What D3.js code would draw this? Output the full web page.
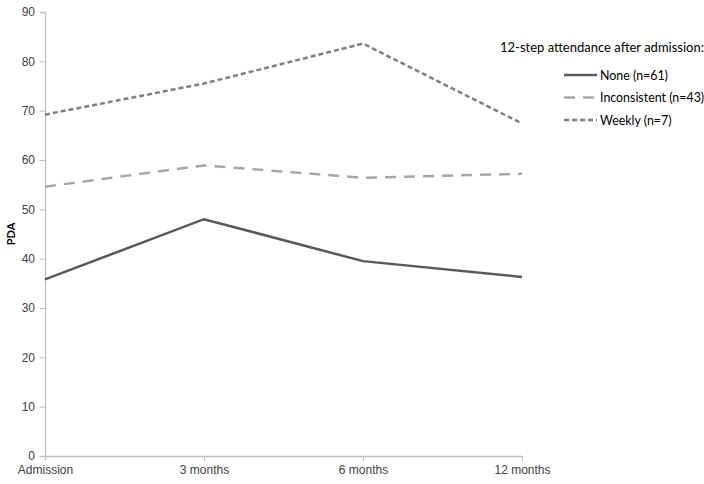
<!DOCTYPE html>
<html><head><meta charset="utf-8">
<script src="https://cdn.jsdelivr.net/npm/d3@7"></script>
<style>body{margin:0;background:#fff}svg{display:block;font-family:Lato,"Open Sans",sans-serif}</style>
</head><body><svg id="c" width="704" height="484"></svg>
<script>
const categories = ["Admission","3 months","6 months","12 months"];
const seriesNames = ["None (n=61)","Inconsistent (n=43)","Weekly (n=7)"];
const noneVals = [35.8, 48.0, 39.5, 36.3];
const inconsistentVals = [54.6, 58.9, 56.4, 57.2];
const weeklyVals = [69.2, 75.5, 83.6, 67.4];
const yTicks = [0,10,20,30,40,50,60,70,80,90];
const legendTitle = "12-step attendance after admission:";
const yLabel = "PDA";

const series = [
  {name: seriesNames[0], values: noneVals, color: "#595959", dash: null, width: 2.5},
  {name: seriesNames[1], values: inconsistentVals, color: "#a6a6a6", dash: "11,8", width: 2.5},
  {name: seriesNames[2], values: weeklyVals, color: "#7f7f7f", dash: "5,3", width: 2.5}
];

const svg = d3.select("#c");
const x = d3.scalePoint().domain(categories).range([45, 522]);
const y = d3.scaleLinear().domain([0, 90]).range([456, 12]);

const axisColor = "#bfbfbf";
const yAxis = svg.append("g").attr("transform","translate(45,0)")
  .call(d3.axisLeft(y).tickValues(yTicks).tickSize(5).tickPadding(5));
yAxis.select(".domain").attr("stroke", axisColor).attr("stroke-width",1.3);
yAxis.selectAll(".tick line").attr("stroke", axisColor);
yAxis.selectAll("text").attr("fill","#404040").style("font-size","12px");

const xAxis = svg.append("g").attr("transform","translate(0,456)")
  .call(d3.axisBottom(x).tickSize(5).tickPadding(4).tickSizeOuter(0));
xAxis.select(".domain").attr("stroke", axisColor).attr("stroke-width",1.3);
xAxis.selectAll(".tick line").attr("stroke", axisColor);
xAxis.selectAll("text").attr("fill","#404040").style("font-size","12px");

svg.append("text").attr("transform","translate(15,234) rotate(-90)")
  .attr("text-anchor","middle").attr("font-weight","bold").attr("font-size","11px")
  .attr("fill","#000").text(yLabel);

const line = d3.line().x((d,i)=>x(categories[i])).y(d=>y(d));
series.forEach(s=>{
  svg.append("path").datum(s.values).attr("d", line)
    .attr("fill","none").attr("stroke", s.color).attr("stroke-width", s.width)
    .attr("stroke-dasharray", s.dash);
});

svg.append("text").attr("x",500).attr("y",52).attr("font-size","13px").attr("fill","#000").text(legendTitle);
const lg = svg.append("g");
series.forEach((s,i)=>{
  const yy = 75 + i*22.5;
  lg.append("line").attr("x1",564).attr("x2",597).attr("y1",yy).attr("y2",yy)
    .attr("stroke", s.color).attr("stroke-width", s.width).attr("stroke-dasharray", s.dash);
  lg.append("text").attr("x",600).attr("y",yy+4.5).attr("font-size","12.4px").attr("fill","#000").text(s.name);
});
</script></body></html>
